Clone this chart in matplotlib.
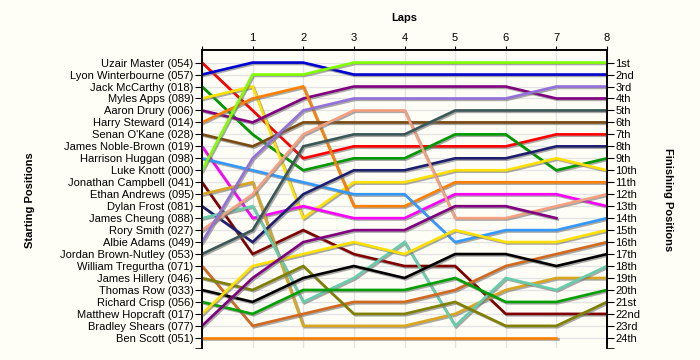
import matplotlib.pyplot as plt
import matplotlib.patheffects as pe

plt.rcParams['font.family'] = ['Liberation Sans', 'DejaVu Sans']

# drivers in starting order
drivers = ["Uzair Master (054)", "Lyon Winterbourne (057)", "Jack McCarthy (018)",
           "Myles Apps (089)", "Aaron Drury (006)", "Harry Steward (014)",
           "Senan O'Kane (028)", "James Noble-Brown (019)", "Harrison Huggan (098)",
           "Luke Knott (000)", "Jonathan Campbell (041)", "Ethan Andrews (095)",
           "Dylan Frost (081)", "James Cheung (088)", "Rory Smith (027)",
           "Albie Adams (049)", "Jordan Brown-Nutley (053)", "William Tregurtha (071)",
           "James Hillery (046)", "Thomas Row (033)", "Richard Crisp (056)",
           "Matthew Hopcraft (017)", "Bradley Shears (077)", "Ben Scott (051)"]

# position at lap 0 (start) .. lap 8
positions = [
    [1, 5, 9, 8, 8, 8, 8, 7, 7],
    [2, 1, 1, 2, 2, 2, 2, 2, 2],
    [3, 7, 10, 9, 9, 7, 7, 10, 9],
    [4, 3, 14, 11, 11, 10, 10, 9, 10],
    [5, 6, 4, 3, 3, 3, 3, 4, 4],
    [6, 4, 3, 13, 13, 11, 11, 11, 11],
    [7, 8, 6, 6, 6, 6, 6, 6, 6],
    [8, 14, 13, 14, 14, 12, 12, 12, 13],
    [9, 10, 11, 12, 12, 16, 15, 15, 14],
    [10, 2, 2, 1, 1, 1, 1, 1, 1],
    [11, 17, 15, 17, 18, 18, 22, 22, 22],
    [12, 11, 23, 23, 23, 22, 20, 19, 19],
    [13, 16, 12, 10, 10, 9, 9, 8, 8],
    [14, 13, 21, 19, 16, 23, 19, 20, 18],
    [15, 12, 7, 5, 5, 14, 14, 13, 12],
    [16, 9, 5, 4, 4, 4, 4, 3, 3],
    [17, 15, 8, 7, 7, 5, 5, 5, 5],
    [18, 23, 22, 21, 21, 20, 18, 17, 16],
    [19, 20, 18, 22, 22, 21, 23, 23, 21],
    [20, 21, 19, 18, 19, 17, 17, 18, 17],
    [21, 22, 20, 20, 20, 19, 21, 21, 20],
    [22, 18, 17, 16, 17, 15, 16, 16, 15],
    [23, 19, 16, 15, 15, 13, 13, 14],
    [24, 24, 24, 24, 24, 24, 24, 24],
]

colors = ["#FF0000", "#0000D0", "#009900", "#FFE000", "#800080", "#FF8000",
          "#7B4A12", "#FF00FF", "#3399FF", "#80FF00", "#800000", "#DAA520",
          "#1E1E6E", "#66CDAA", "#F5A080", "#9370DB", "#3A5858", "#D2691E",
          "#808000", "#000000", "#00A000", "#FFE000", "#800080", "#FF8000"]

finish_labels = ["1st", "2nd", "3rd", "4th", "5th", "6th", "7th", "8th", "9th", "10th",
                 "11th", "12th", "13th", "14th", "15th", "16th", "17th", "18th", "19th",
                 "20th", "21st", "22nd", "23rd", "24th"]

bg = "#FFFEF6"
fig = plt.figure(figsize=(7, 3.6), dpi=100, facecolor=bg)
ax = fig.add_axes([202 / 700, 12 / 360, 405 / 700, 298 / 360])
ax.set_facecolor(bg)

n = len(drivers)
ax.set_xlim(0, 8)
ax.set_ylim(24.85, -0.05)

# grid
for lap in range(1, 8):
    ax.axvline(lap, color="#E4E4E4", lw=1, zorder=1)
for p in range(1, n + 1):
    ax.axhline(p, color="#E4E4E4", lw=1, zorder=1)

shadow = [pe.SimpleLineShadow(offset=(1, -1), shadow_color="#707070", alpha=0.6), pe.Normal()]
for i in range(n):
    laps = list(range(len(positions[i])))
    ax.plot(laps, positions[i], color=colors[i], lw=1.9, zorder=3 + i * 0.01,
            path_effects=shadow, solid_joinstyle="miter")

fs = 8.0
ax.set_yticks(range(1, n + 1))
ax.set_yticklabels(drivers, fontsize=fs)
ax.set_yticks([24.85], minor=True)
ax.xaxis.tick_top()
ax.set_xticks(range(0, 9))
ax.set_xticklabels([""] + [str(i) for i in range(1, 9)], fontsize=fs)
ax.tick_params(axis="x", length=3, pad=2, direction="out")
ax.tick_params(axis="y", which="both", length=5, pad=1, direction="out")
ax.spines["bottom"].set_visible(False)
for s in ["top", "left", "right"]:
    ax.spines[s].set_linewidth(1.2)

ax2 = ax.twinx()
ax2.set_ylim(ax.get_ylim())
ax2.set_yticks(range(1, n + 1))
ax2.set_yticklabels(finish_labels, fontsize=fs)
ax2.set_yticks([24.85], minor=True)
ax2.tick_params(axis="y", which="both", length=5, pad=1, direction="out")
ax2.spines["bottom"].set_visible(False)
for s in ["top", "left", "right"]:
    ax2.spines[s].set_linewidth(1.2)

fig.text(404 / 700, 1 - 18 / 360, "Laps", ha="center", va="center", fontsize=fs, fontweight="bold")
fig.text(30 / 700, 1 - 200 / 360, "Starting Positions", ha="center", va="center",
         rotation=90, fontsize=fs, fontweight="bold")
fig.text(668 / 700, 1 - 200 / 360, "Finishing Positions", ha="center", va="center",
         rotation=270, fontsize=fs, fontweight="bold")

fig.savefig("out.png", dpi=100, facecolor=bg)
